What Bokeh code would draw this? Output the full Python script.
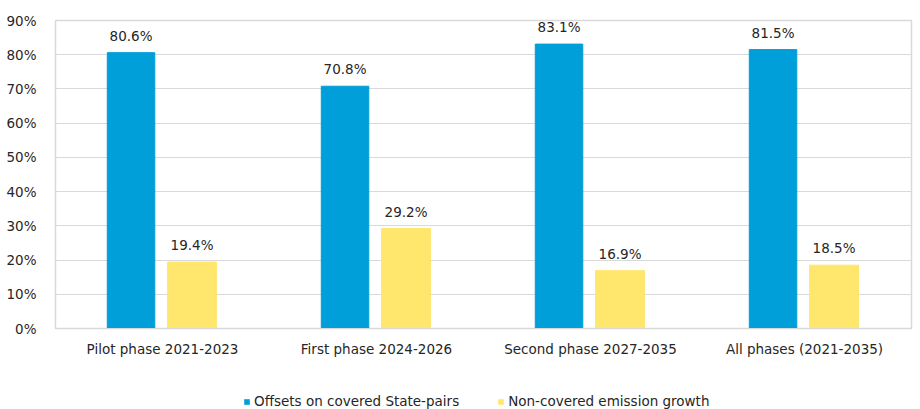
from bokeh.plotting import figure
from bokeh.layouts import column
from bokeh.models import (ColumnDataSource, Range1d, FactorRange, NumeralTickFormatter,
                          LabelSet, Legend, LegendItem, FixedTicker)
from bokeh.core.properties import value
from bokeh.transform import dodge
from bokeh.embed import file_html
from bokeh.resources import INLINE

categories = ["Pilot phase 2021-2023", "First phase 2024-2026",
              "Second phase 2027-2035", "All phases (2021-2035)"]
offsets = [0.806, 0.708, 0.831, 0.815]
non_covered = [0.194, 0.292, 0.169, 0.185]
series_names = ["Offsets on covered State-pairs", "Non-covered emission growth"]
y_ticks = [0.0, 0.1, 0.2, 0.3, 0.4, 0.5, 0.6, 0.7, 0.8, 0.9]

BLUE = "#009FD9"
YELLOW = "#FFE66D"
FONT = "DejaVu Sans"
TXT = "#262626"
FS = "13.5px"

src = ColumnDataSource(dict(
    cat=categories,
    off=offsets,
    non=non_covered,
    off_lbl=[f"{v*100:.1f}%" for v in offsets],
    non_lbl=[f"{v*100:.1f}%" for v in non_covered],
))

p = figure(width=920, height=383, x_range=FactorRange(*categories),
           y_range=Range1d(0, 0.9), output_backend="svg", toolbar_location=None,
           min_border_left=55, min_border_right=9, min_border_top=20,
           min_border_bottom=55)

p.vbar(x=dodge("cat", -0.147, range=p.x_range), top="off", width=0.222,
       source=src, fill_color=BLUE, line_color=BLUE)
p.vbar(x=dodge("cat", 0.138, range=p.x_range), top="non", width=0.228,
       source=src, fill_color=YELLOW, line_color=YELLOW)

for col, lbl, dx in (("off", "off_lbl", -0.147), ("non", "non_lbl", 0.138)):
    p.add_layout(LabelSet(x=dodge("cat", dx, range=p.x_range), y=col, text=lbl,
                          source=src, text_align="center", text_baseline="bottom",
                          y_offset=9, text_font=value(FONT), text_font_size=value(FS),
                          text_color=TXT))

p.yaxis.ticker = FixedTicker(ticks=y_ticks)
p.yaxis.formatter = NumeralTickFormatter(format="0%")
p.yaxis.axis_line_color = None
p.yaxis.major_tick_line_color = None
p.yaxis.minor_tick_line_color = None
p.yaxis.major_label_standoff = 13
p.yaxis.major_label_text_font = FONT
p.yaxis.major_label_text_font_size = FS
p.yaxis.major_label_text_color = TXT

p.xaxis.axis_line_color = "#d9d9d9"
p.xaxis.major_tick_line_color = None
p.xaxis.minor_tick_line_color = None
p.xaxis.major_label_standoff = 6
p.xaxis.major_label_text_font = FONT
p.xaxis.major_label_text_font_size = FS
p.xaxis.major_label_text_color = TXT

p.xgrid.grid_line_color = None
p.ygrid.grid_line_color = "#d9d9d9"
p.outline_line_color = "#d9d9d9"
p.outline_line_width = 1.5

# legend strip below the chart (zero-size proxy glyphs carry the swatches)
lf = figure(width=920, height=26, x_range=Range1d(0, 1), y_range=Range1d(0, 1),
            output_backend="svg", toolbar_location=None,
            min_border_left=0, min_border_right=0, min_border_top=0, min_border_bottom=0)
lf.axis.visible = False
lf.grid.grid_line_color = None
lf.outline_line_color = None
proxy = ColumnDataSource(dict(x=[0.5], top=[0.0]))
g1 = lf.vbar(x="x", top="top", width=0.0, source=proxy,
             fill_color=BLUE, line_color=BLUE, line_alpha=0)
g2 = lf.vbar(x="x", top="top", width=0.0, source=proxy,
             fill_color=YELLOW, line_color=YELLOW, line_alpha=0)

legend = Legend(items=[LegendItem(label=series_names[0], renderers=[g1]),
                       LegendItem(label=series_names[1], renderers=[g2])],
                orientation="horizontal", location=(188, 0),
                glyph_width=7, glyph_height=7, spacing=38, label_standoff=4,
                label_text_font=FONT, label_text_font_size=FS,
                label_text_color=TXT, border_line_color=None,
                background_fill_alpha=0, margin=0, padding=0)
lf.add_layout(legend)

layout = column(p, lf, spacing=0)
open("out.html", "w").write(file_html(layout, INLINE))
